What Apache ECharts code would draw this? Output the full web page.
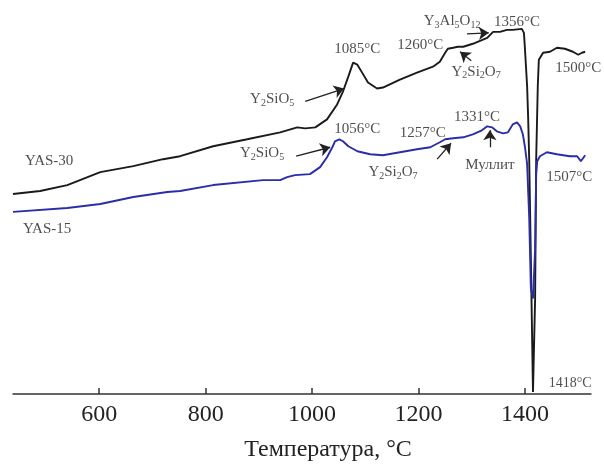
<!DOCTYPE html>
<html>
<head>
<meta charset="utf-8">
<script src="https://cdn.jsdelivr.net/npm/echarts@6/dist/echarts.min.js"></script>
<style>
  html, body { margin: 0; padding: 0; background: #fff; }
  #charts { width: 604px; height: 467px; }
</style>
</head>
<body>
<div id="charts"></div>
<script>
// температура, °C и сигнал (усл. ед.)
const tempTicks = [600, 800, 1000, 1200, 1400];

const yas30T = [438, 489, 540, 602, 664, 720, 752, 814, 878, 940, 972, 987, 1006, 1028, 1047, 1058, 1068, 1077, 1085, 1094, 1105, 1122, 1133, 1165, 1197, 1227, 1240, 1250, 1255, 1265, 1274, 1284, 1302, 1329, 1340, 1353, 1366, 1377, 1394, 1398, 1400, 1404, 1406, 1408, 1411, 1415, 1417, 1419, 1421, 1424, 1426, 1434, 1447, 1460, 1475, 1490, 1500, 1507, 1513];
const yas30V = [201, 204, 210, 223, 229, 236, 239, 249, 256, 263, 268, 267, 268, 276, 291, 304, 319, 333, 331, 323, 313, 307, 308, 316, 323, 329, 334, 343, 347, 348, 349, 349, 352, 358, 364, 364, 366, 366, 367, 363, 346, 309, 276, 233, 136, 2, 2, 96, 236, 309, 336, 343, 344, 348, 347, 344, 341, 343, 344];

const yas15T = [438, 540, 602, 664, 728, 752, 814, 908, 940, 953, 968, 996, 1015, 1028, 1038, 1043, 1051, 1058, 1068, 1085, 1109, 1133, 1165, 1197, 1222, 1240, 1250, 1265, 1284, 1302, 1319, 1329, 1338, 1347, 1359, 1368, 1377, 1385, 1391, 1396, 1400, 1404, 1408, 1411, 1415, 1419, 1421, 1423, 1428, 1441, 1460, 1484, 1498, 1505, 1513];
const yas15V = [183, 187, 191, 198, 203, 204, 210, 215, 215, 218, 220, 221, 228, 238, 248, 254, 256, 254, 249, 244, 241, 240, 243, 246, 248, 253, 256, 257, 258, 261, 265, 269, 268, 264, 262, 263, 271, 273, 269, 261, 248, 231, 176, 106, 96, 146, 221, 234, 239, 243, 241, 239, 239, 234, 240];

// подписи: текст и положение (T, сигнал)
const labelText = [
  '{n|1085°C}', '{n|Y}{s|2}{n|SiO}{s|5}', '{n|1260°C}', '{n|Y}{s|3}{n|Al}{s|5}{n|O}{s|12}',
  '{n|1356°C}', '{n|Y}{s|2}{n|Si}{s|2}{n|O}{s|7}', '{n|1500°C}',
  '{n|1056°C}', '{n|Y}{s|2}{n|SiO}{s|5}', '{n|1257°C}', '{n|Y}{s|2}{n|Si}{s|2}{n|O}{s|7}',
  '{n|1331°C}', '{n|Муллит}', '{n|1507°C}', '{m|1418°C}',
  '{n|YAS-30}', '{n|YAS-15}'
];
const labelT = [1085, 925, 1203, 1263, 1385, 1308, 1500, 1085, 906, 1208, 1152, 1310, 1334, 1483, 1485, 506, 502];
const labelV = [347, 296, 351, 375, 374, 324, 328, 266, 242, 262, 223, 278, 230, 218, 11, 234, 166];

// стрелки: от (T0, V0) к (T1, V1)
const arrowFrom = [[987, 294], [1291, 362], [1299, 335], [970, 239], [1235, 236], [1334, 248]];
const arrowTo = [[1060, 307], [1332, 363], [1278, 344], [1034, 248], [1261, 252], [1334, 265]];

const serif = "'Liberation Serif', 'Times New Roman', serif";

const zip = (a, b) => a.map((v, i) => [v, b[i]]);

const option = {
    animation: false,
    backgroundColor: '#fff',
    grid: { left: 13, right: 13, top: 0, bottom: 71 },
    xAxis: {
        type: 'value',
        min: 438,
        max: 1524,
        name: 'Температура, °C',
        nameLocation: 'middle',
        nameGap: 44,
        nameTextStyle: { fontFamily: serif, fontSize: 24, color: '#222', padding: [0, 0, 0, 52] },
        axisLine: { show: true, lineStyle: { color: '#333', width: 1.5 } },
        axisTick: { show: true, inside: true, length: 6, customValues: tempTicks, lineStyle: { color: '#333', width: 1.5 } },
        axisLabel: {
            customValues: tempTicks,
            formatter: v => String(v),
            margin: 9,
            fontFamily: serif,
            fontSize: 24,
            color: '#222'
        },
        splitLine: { show: false }
    },
    yAxis: {
        type: 'value',
        min: 0,
        max: 396,
        show: false
    },
    series: [
        {
            name: 'YAS-30',
            type: 'line',
            data: zip(yas30T, yas30V),
            showSymbol: false,
            lineStyle: { color: '#1a1a1a', width: 1.9 },
            z: 2
        },
        {
            name: 'YAS-15',
            type: 'line',
            data: zip(yas15T, yas15V),
            showSymbol: false,
            lineStyle: { color: '#2a2da8', width: 1.9 },
            z: 3
        },
        {
            type: 'lines',
            coordinateSystem: 'cartesian2d',
            data: arrowFrom.map((p, i) => ({ coords: [p, arrowTo[i]] })),
            symbol: ['none', 'arrow'],
            symbolSize: [7, 10],
            lineStyle: { color: '#222', width: 1.3, opacity: 1 },
            z: 4
        },
        {
            type: 'scatter',
            symbolSize: 0,
            data: labelT.map((t, i) => ({ value: [t, labelV[i]], name: labelText[i] })),
            label: {
                show: true,
                position: 'inside',
                formatter: p => p.name,
                rich: {
                    n: { fontFamily: serif, fontSize: 15, color: '#222', lineHeight: 18 },
                    s: { fontFamily: serif, fontSize: 10, color: '#222', lineHeight: 8, verticalAlign: 'bottom' },
                    m: { fontFamily: serif, fontSize: 14, color: '#222', lineHeight: 18 }
                }
            },
            z: 5
        }
    ]
};
const chart = echarts.init(document.getElementById('charts'));
chart.setOption(option);
</script>
</body>
</html>
